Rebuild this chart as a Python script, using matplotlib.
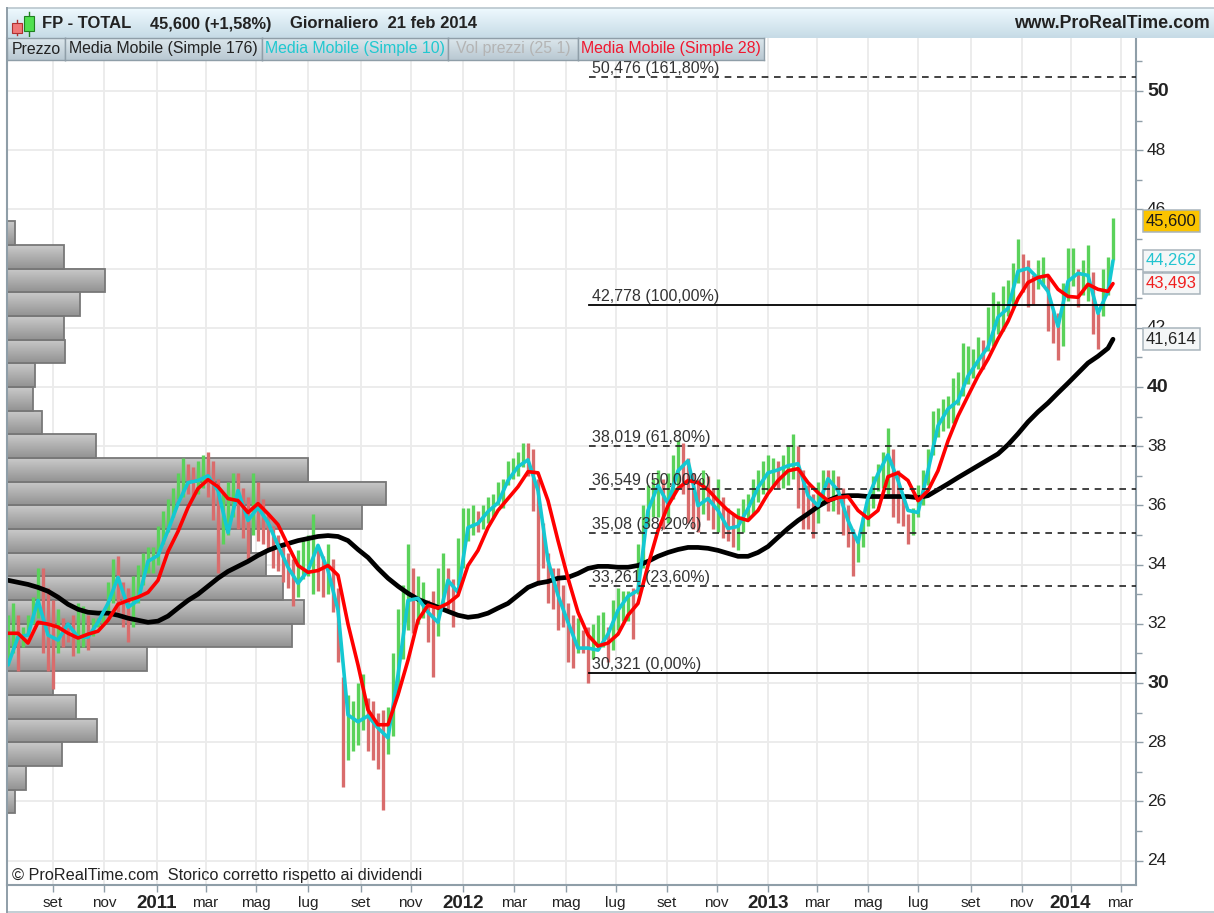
import numpy as np
import matplotlib
matplotlib.use("Agg")
import matplotlib.pyplot as plt
from matplotlib.colors import LinearSegmentedColormap
from matplotlib.patches import Rectangle

plt.rcParams['font.family'] = ['Liberation Sans', 'DejaVu Sans']

W, H = 1214, 913

# ---------- data (prices in euro, x = trading session index) ----------
sma176 = [33.47,33.40,33.33,33.23,33.10,32.90,32.66,32.49,32.39,32.36,
          32.36,32.29,32.19,32.12,32.05,32.09,32.26,32.53,32.79,33.00,
          33.27,33.54,33.77,33.94,34.11,34.31,34.48,34.61,34.71,34.81,
          34.88,34.95,34.98,34.95,34.81,34.51,34.24,33.87,33.54,33.27,
          33.03,32.83,32.69,32.56,32.42,32.29,32.22,32.26,32.36,32.53,
          32.69,32.96,33.23,33.37,33.43,33.54,33.57,33.70,33.87,33.94,
          33.94,33.91,33.91,33.97,34.11,34.28,34.41,34.51,34.58,34.58,
          34.55,34.48,34.38,34.28,34.28,34.41,34.61,34.92,35.22,35.49,
          35.72,35.96,36.16,36.30,36.33,36.33,36.30,36.30,36.30,36.30,
          36.30,36.26,36.33,36.53,36.73,36.94,37.14,37.34,37.54,37.74,
          38.05,38.42,38.82,39.16,39.46,39.80,40.13,40.47,40.81,41.04,
          41.31,41.614]
sma28 = [31.68,31.68,31.35,32.05,31.99,31.89,31.68,31.52,31.65,31.75,
         32.12,32.66,32.79,32.90,33.06,33.47,34.44,35.12,35.93,36.57,
         36.87,36.63,36.23,36.16,35.76,36.06,35.72,35.35,34.65,33.97,
         33.74,33.80,33.97,33.64,31.99,30.61,29.09,28.59,28.59,29.60,
         30.77,32.12,32.63,32.53,32.69,32.96,33.97,34.48,35.25,35.83,
         36.23,36.63,37.14,37.10,36.16,34.81,33.54,32.39,31.62,31.25,
         31.35,31.65,32.29,32.69,33.97,35.15,35.99,36.57,36.84,36.77,
         36.53,36.16,35.83,35.59,35.49,35.83,36.40,36.84,37.17,37.24,
         36.77,36.43,36.16,36.26,36.30,35.83,35.56,35.83,36.97,37.10,
         36.84,36.16,36.50,37.17,38.18,39.02,39.70,40.37,40.94,41.62,
         42.22,42.99,43.53,43.70,43.77,43.30,43.06,43.03,43.47,43.30,
         43.23,43.493]
sma10 = [30.61,31.55,31.62,32.79,31.62,31.45,31.99,31.55,31.55,32.05,
         32.69,33.57,32.56,32.79,34.11,34.31,35.15,36.06,36.77,36.84,
         37.00,36.50,35.08,36.50,35.49,35.93,35.42,34.65,33.91,33.37,
         33.80,34.65,33.80,32.46,28.92,28.69,28.89,28.48,28.15,30.27,
         32.79,32.86,32.39,32.05,33.47,33.06,35.25,35.39,35.79,36.09,
         36.84,37.31,37.54,36.50,34.14,32.96,32.05,31.18,31.18,31.11,
         31.65,32.46,32.93,33.13,35.83,36.67,36.06,37.17,37.51,35.99,
         36.23,35.83,35.22,35.29,35.89,36.60,37.10,37.20,37.34,37.41,
         36.33,35.99,36.90,36.50,35.49,34.75,36.26,37.07,37.71,36.84,
         35.83,35.76,37.17,38.69,39.26,39.53,40.37,40.88,41.35,42.36,
         42.66,43.91,44.01,43.67,43.23,42.05,43.57,43.84,43.77,42.49,
         43.23,44.262]
line_sessions = list(range(0, 881, 8)) + [884]

high = [32.3,32.7,32.3,31.9,32.3,32.9,33.9,33.9,33.2,32.8,32.5,32.2,31.9,32.3,32.7,32.6,32.3,32.2,32.2,32.4,
        33.4,34.2,34.3,33.4,33.2,33.6,34.0,34.4,34.6,34.6,35.3,35.8,36.2,36.6,37.1,37.6,37.4,37.3,37.5,37.7,
        37.8,37.5,36.9,36.4,36.8,37.1,37.1,36.6,36.3,37.1,36.8,36.2,35.7,35.3,35.0,34.7,34.4,34.2,34.5,34.9,
        35.0,35.7,34.6,34.3,34.7,34.2,33.2,30.2,29.6,29.4,30.0,30.3,29.5,29.4,29.0,29.1,29.2,31.0,32.5,33.3,
        34.7,33.9,33.6,33.4,32.8,33.1,33.9,34.4,33.9,33.5,34.9,35.9,35.9,36.0,35.8,36.0,36.3,36.4,36.8,36.9,
        37.5,37.6,37.8,38.1,38.1,37.9,36.9,35.4,34.4,33.9,33.9,33.3,32.7,32.3,32.2,31.8,31.9,32.0,32.3,32.4,
        31.9,32.8,33.2,33.1,33.1,33.2,34.7,36.0,36.7,36.9,37.2,36.9,37.1,37.7,38.2,38.1,37.6,37.1,36.9,37.2,
        37.0,36.6,36.9,36.3,35.9,35.7,35.9,36.2,36.4,36.9,37.2,37.5,37.7,37.6,37.5,37.7,38.0,38.4,38.0,37.2,
        36.7,36.4,36.8,37.2,37.2,37.2,37.0,36.6,36.0,35.2,34.9,35.6,36.4,37.0,37.4,37.8,38.6,37.9,37.2,36.3,
        35.7,35.9,36.7,37.2,37.9,39.2,39.3,39.6,39.7,40.3,40.5,41.5,41.4,41.3,41.7,41.6,42.7,43.2,42.9,43.4,
        43.6,44.2,45.0,44.5,44.3,43.8,44.3,44.4,43.8,42.6,42.5,43.5,44.7,44.7,44.0,44.3,44.8,43.9,42.5,44.0,44.4,45.7]
low = [30.6,31.0,30.4,31.2,31.6,32.0,32.2,31.0,30.4,29.8,31.0,31.2,31.4,30.9,31.0,31.2,31.1,31.6,31.9,32.0,
       32.3,32.7,32.4,31.9,31.4,31.9,32.7,33.3,33.7,33.7,34.0,34.7,35.1,35.6,36.2,36.3,36.4,36.3,36.4,36.6,
       36.3,35.5,33.7,34.7,35.0,35.6,35.2,34.9,34.2,35.0,34.8,34.7,34.5,33.9,33.8,33.4,33.2,32.6,32.9,33.5,
       33.6,33.0,33.1,32.9,33.0,32.4,30.7,26.5,27.4,27.7,27.9,28.4,27.7,27.4,27.1,25.7,27.6,28.2,29.7,30.8,
       31.8,31.7,32.0,32.2,31.4,30.2,31.6,32.6,32.5,31.9,33.3,33.9,34.8,35.0,35.1,35.2,35.4,35.6,36.0,35.9,
       36.7,36.9,37.0,37.3,37.0,35.8,33.3,33.9,32.7,32.5,31.8,31.9,30.7,30.5,31.0,31.0,30.0,30.8,31.1,31.2,
       30.7,31.1,31.8,32.1,32.1,31.5,33.0,33.9,35.3,35.6,35.6,35.2,35.4,36.2,36.6,36.4,35.4,35.2,35.1,35.7,
       35.5,35.2,35.1,34.9,34.8,34.6,34.5,35.1,35.5,35.7,36.1,36.4,36.5,36.6,36.6,36.6,36.7,36.9,35.9,35.2,
       35.2,34.9,35.4,36.0,35.8,35.8,35.7,35.0,34.6,33.6,34.1,34.6,35.3,35.9,36.5,36.6,36.4,35.6,35.4,35.3,
       34.7,35.0,35.6,36.0,36.7,37.7,38.3,38.5,38.6,38.8,39.4,39.7,40.1,40.3,40.6,40.6,41.2,41.4,41.8,41.9,
       42.4,42.7,43.5,43.2,42.7,42.8,43.3,43.4,41.9,41.5,40.9,41.4,42.9,43.4,42.7,43.1,42.9,41.8,41.3,42.4,43.1,44.3]
bar_step = 4

# volume-by-price profile (top to bottom), 25 price bins
profile_top = 45.6
profile_bin = 0.80
profile_volume = [8, 57, 98, 73, 57, 58, 28, 26, 35, 89, 301, 379, 355, 244,
                  259, 276, 297, 285, 140, 46, 69, 90, 55, 19, 8]

fib_levels = [50.476, 42.778, 38.019, 36.549, 35.08, 33.261, 30.321]
fib_labels = ["50,476 (161,80%)", "42,778 (100,00%)", "38,019 (61,80%)",
              "36,549 (50,00%)", "35,08 (38,20%)", "33,261 (23,60%)", "30,321 (0,00%)"]
fib_styles = ['--', '-', '--', '--', '--', '--', '-']
fib_start = 465

month_sessions = [36, 77, 119, 158, 198, 240, 282, 322, 364, 405, 446, 486,
                  527, 567, 608, 647, 688, 728, 770, 811, 850, 890]
month_labels = ["set", "nov", "2011", "mar", "mag", "lug", "set", "nov", "2012",
                "mar", "mag", "lug", "set", "nov", "2013", "mar", "mag", "lug",
                "set", "nov", "2014", "mar"]
price_major = [24, 26, 28, 30, 32, 34, 36, 38, 40, 42, 44, 46, 48, 50]
price_bold = [30, 40, 50]

tags = [(45.6, "45,600", "#1a1a1a"), (44.262, "44,262", "#22c4d0"),
        (43.493, "43,493", "#f02020"), (41.614, "41,614", "#222222")]

tabs = [("Prezzo", 7, 65, "#222222"),
        ("Media Mobile (Simple 176)", 65, 262, "#222222"),
        ("Media Mobile (Simple 10)", 262, 448, "#20c8d0"),
        ("Vol prezzi (25 1)", 448, 578, "#b4b4b4"),
        ("Media Mobile (Simple 28)", 578, 764, "#f01830")]

# ---------- helpers ----------
fig = plt.figure(figsize=(W / 100, H / 100), dpi=100, facecolor='white')

def fx(px):
    return px / W

def fy(py):
    return 1 - py / H

def grad_box(x0, y0, x1, y1, ctop, cbot, z=5, edge=None):
    a = fig.add_axes([fx(x0), fy(y1), (x1 - x0) / W, (y1 - y0) / H], zorder=z)
    cm = LinearSegmentedColormap.from_list('g', [ctop, cbot])
    a.imshow(np.linspace(0, 1, 32)[:, None], aspect='auto', cmap=cm, vmin=0, vmax=1)
    a.set_xticks([]); a.set_yticks([])
    for s in a.spines.values():
        if edge:
            s.set_color(edge); s.set_linewidth(1.0)
        else:
            s.set_visible(False)
    return a

GRID = '#ebebeb'
AXC = '#8f9ea8'

# ---------- main axes ----------
ax = fig.add_axes([fx(7), fy(885), 1129 / W, 847 / H], zorder=2)
xlim = (-0.8, 902.4)
ylim = (30 + (683 - 885) / 29.6, 30 + (683 - 38) / 29.6)
ax.set_facecolor('white')

for m in month_sessions:
    ax.axvline(m, color=GRID, lw=1.3, zorder=0)
for p in price_major:
    ax.axhline(p, color=GRID, lw=1.3, zorder=0)

# volume profile
vcm = LinearSegmentedColormap.from_list('vp', ['#c9c9c9', '#939393'])
ytrans = ax.get_yaxis_transform()
for i, v in enumerate(profile_volume):
    top = profile_top - i * profile_bin
    bot = top - profile_bin
    frac = v / 1129
    im = ax.imshow(np.linspace(0, 1, 24)[:, None], extent=[0, frac, bot, top], aspect='auto',
                   cmap=vcm, vmin=0, vmax=1, zorder=1, transform=ytrans)
    ax.add_patch(Rectangle((0, bot), frac, profile_bin, transform=ytrans, fill=False,
                           edgecolor='#787878', lw=1.3, zorder=1.1))

# price bars
hi = np.array(high); lo = np.array(low)
xs = np.arange(len(hi)) * bar_step
mid = (hi + lo) / 2
up = np.r_[True, mid[1:] >= mid[:-1]]
ax.vlines(xs[up], lo[up], hi[up], color='#5ad25a', lw=2.4, zorder=2)
ax.vlines(xs[~up], lo[~up], hi[~up], color='#d96c6c', lw=2.4, zorder=2)

# moving averages
ax.plot(line_sessions, sma176, color='black', lw=3.4, zorder=3, solid_capstyle='round', solid_joinstyle='round')
ax.plot(line_sessions, sma10, color='#14c8d2', lw=2.6, zorder=4, solid_capstyle='round', solid_joinstyle='round')
ax.plot(line_sessions, sma28, color='#ff0000', lw=2.6, zorder=5, solid_capstyle='round', solid_joinstyle='round')

# fibonacci levels
for lvl, lab, st in zip(fib_levels, fib_labels, fib_styles):
    if st == '--':
        ax.plot([fib_start, xlim[1]], [lvl, lvl], color='#222222', lw=1.2, ls=(0, (4, 3.4)), zorder=6)
    else:
        ax.plot([fib_start, xlim[1]], [lvl, lvl], color='black', lw=1.3, zorder=6)
    ax.text(fib_start + 2.5, lvl + 0.29, lab, fontsize=11.5, color='#333333', ha='left', va='center', zorder=7)

ax.text(3, 23.48, "\u00a9 ProRealTime.com  Storico corretto rispetto ai dividendi",
        fontsize=11.7, color='#222222', ha='left', va='center', zorder=7)

ax.set_xlim(*xlim)
ax.set_ylim(*ylim)
ax.set_xticks(month_sessions)
ax.set_xticklabels([])
ax.set_yticks(price_major)
ax.set_yticks(np.arange(25, 52, 2), minor=True)
ax.yaxis.tick_right()
ax.set_yticklabels([])
ax.tick_params(axis='y', which='major', length=5, color=AXC, width=1.0, direction='out')
ax.tick_params(axis='y', which='minor', length=4, color=AXC, width=1.0, direction='out')
ax.tick_params(axis='x', length=5, color=AXC, width=1.0, direction='out')
for s in ['left', 'right', 'bottom']:
    ax.spines[s].set_color(AXC); ax.spines[s].set_linewidth(1.5)
ax.spines['top'].set_visible(False)

# month and year labels
for m, lab in zip(month_sessions, month_labels):
    is_year = lab.isdigit()
    ax.annotate(lab, xy=(m, 0), xycoords=ax.get_xaxis_transform(),
                xytext=(0, -13.3), textcoords='offset points', ha='center', va='center',
                fontsize=13.5 if is_year else 11.0, fontweight='bold' if is_year else 'normal',
                color='#222222', annotation_clip=False)

# price labels
for p in price_major:
    bold = p in price_bold
    ax.annotate(str(p), xy=(1, p), xycoords=ax.get_yaxis_transform(),
                xytext=(8, 0), textcoords='offset points', ha='left', va='center',
                fontsize=14 if bold else 12.5, fontweight='bold' if bold else 'normal',
                color='#222222', annotation_clip=False, zorder=3)

# last value tags
for val, txt, col in tags:
    gold = txt == "45,600"
    ax.annotate(txt, xy=(1, val), xycoords=ax.get_yaxis_transform(),
                xytext=(7.2, 0), textcoords='offset points', ha='left', va='center',
                fontsize=12.0, color=col, annotation_clip=False, zorder=8,
                bbox=dict(boxstyle='square,pad=0.2', fc='#fbc400' if gold else '#f4f6f7',
                          ec='#a8b4bc', lw=1.1))

# ---------- header ----------
grad_box(7, 8, W, 38, '#eef9fe', '#c6dbe6', z=5)
fig.add_artist(plt.Line2D([fx(7), fx(W)], [fy(8), fy(8)], color='#b9c6cd', lw=1.2, zorder=6))

# candle icon
icon = fig.add_axes([fx(9), fy(37), 28 / W, 27 / H], zorder=6)
icon.axis('off'); icon.set_xlim(9, 37); icon.set_ylim(37, 10)
icon.plot([17, 17], [20, 35], color='#b03030', lw=1.0)
icon.add_patch(Rectangle((12, 23), 10, 10, fc='#f07878', ec='#b03030', lw=0.8, zorder=3))
icon.plot([29, 29], [12, 36], color='#208020', lw=1.0)
icon.add_patch(Rectangle((24, 16), 10, 15, fc='#50e050', ec='#208020', lw=0.8, zorder=3))

fig.text(fx(42), fy(24), "FP - TOTAL", fontsize=12, fontweight='bold', color='#222222', va='center', zorder=10)
fig.text(fx(150), fy(24), "45,600 (+1,58%)", fontsize=11.8, fontweight='bold', color='#222222', va='center', zorder=10)
fig.text(fx(290), fy(24), "Giornaliero  21 feb 2014", fontsize=12, fontweight='bold', color='#222222', va='center', zorder=10)
fig.text(fx(1210), fy(24), "www.ProRealTime.com", fontsize=12.8, fontweight='bold', color='#222222', va='center', ha='right', zorder=10)

# indicator tabs
for txt, x0, x1, col in tabs:
    grad_box(x0, 38, x1, 60, '#dce7ec', '#b9c8d2', z=5, edge='#8f9ea8')
    fig.text(fx((x0 + x1) / 2), fy(49), txt, fontsize=11.4, color=col, ha='center', va='center', zorder=10)

# outer bottom line
fig.add_artist(plt.Line2D([fx(7), fx(W)], [fy(911.5), fy(911.5)], color='#b9c6cd', lw=1.2, zorder=6))
fig.add_artist(plt.Line2D([fx(7), fx(7)], [fy(8), fy(912)], color=AXC, lw=1.4, zorder=6))

fig.savefig('out.png', dpi=100, facecolor='white')
